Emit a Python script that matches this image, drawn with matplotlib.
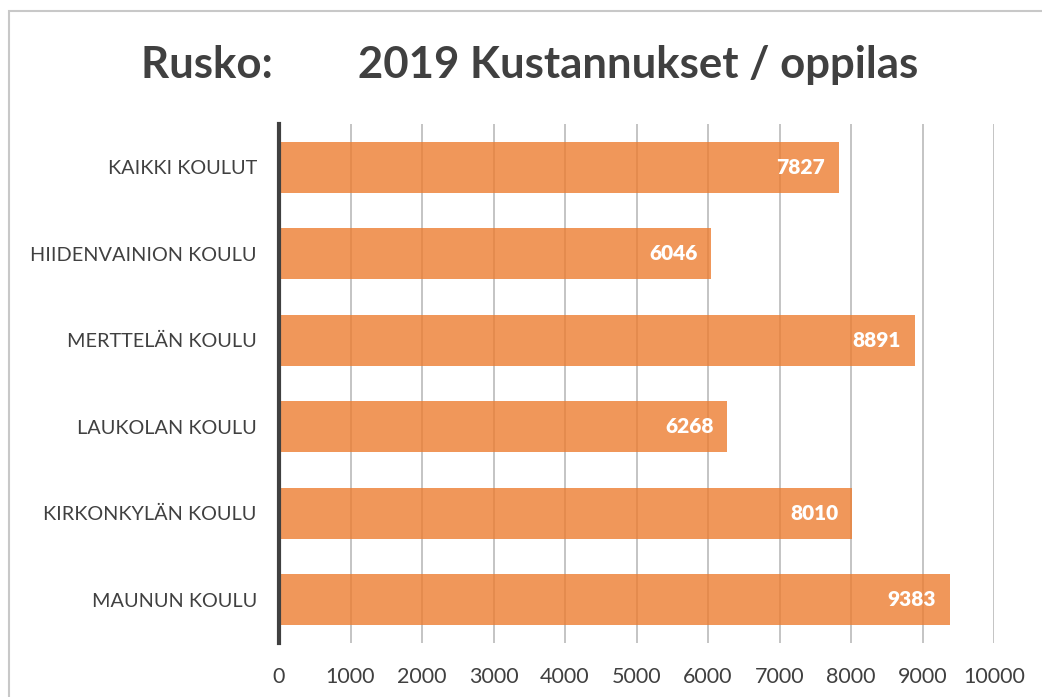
import matplotlib.pyplot as plt
from matplotlib.patches import Rectangle

schools = ['KAIKKI KOULUT', 'HIIDENVAINION KOULU', 'MERTTELÄN KOULU',
           'LAUKOLAN KOULU', 'KIRKONKYLÄN KOULU', 'MAUNUN KOULU']
costs = [7827, 6046, 8891, 6268, 8010, 9383]
xticks = [0, 1000, 2000, 3000, 4000, 5000, 6000, 7000, 8000, 9000, 10000]

plt.rcParams['font.family'] = ['Lato', 'DejaVu Sans']
txt = '#404040'

fig = plt.figure(figsize=(10.42, 6.97), dpi=100)
ax = fig.add_axes([279 / 1042, 1 - 643 / 697, (994 - 279) / 1042, (643 - 124) / 697])

# light frame around chart area
fig.patches.append(Rectangle((9 / 1042, -0.1), 1.2, 1 - 11 / 697 + 0.1,
                             transform=fig.transFigure, fill=False,
                             edgecolor='#C8C8C8', linewidth=1.5))

pos = list(range(len(schools)))[::-1]
ax.barh(pos, costs, height=0.59, color='#ED7D31', alpha=0.8, zorder=3)

for p, v in zip(pos, costs):
    ax.text(v - 190, p, str(v), ha='right', va='center', color='white',
            fontsize=15, fontweight='heavy', zorder=4)

ax.set_xlim(0, 10000)
ax.set_ylim(-0.5, 5.5)
ax.set_xticks(xticks)
ax.set_yticks(pos)
ax.set_yticklabels(schools)
ax.tick_params(axis='x', length=0, pad=17, labelsize=15.5, labelcolor=txt)
ax.tick_params(axis='y', length=0, pad=16, labelsize=14.3, labelcolor=txt)
ax.grid(axis='x', color='#BFBFBF', linewidth=1.3, zorder=0)

for s in ['top', 'right', 'bottom']:
    ax.spines[s].set_visible(False)
ax.spines['left'].set_color('#404040')
ax.spines['left'].set_linewidth(3)
ax.spines['left'].set_zorder(5)

fig.text(530 / 1042, 1 - 65 / 697, 'Rusko:        2019 Kustannukset / oppilas',
         ha='center', va='center', fontsize=31.5, fontweight='bold', color=txt)

fig.savefig('out.png', dpi=100)
